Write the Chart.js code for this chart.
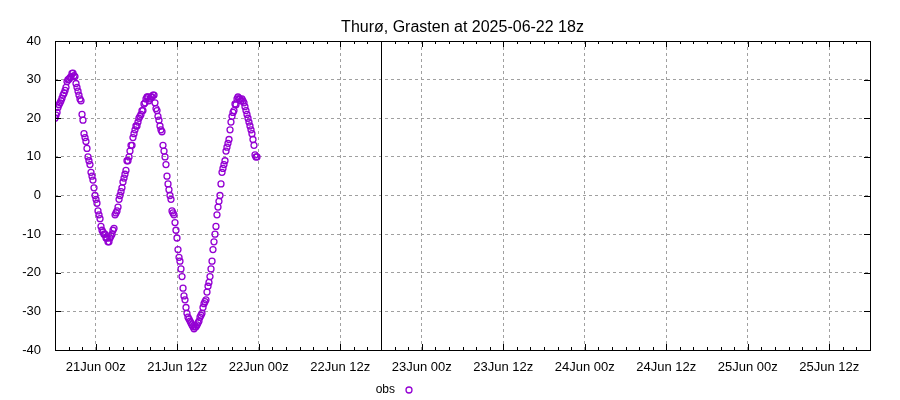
<!DOCTYPE html>
<html>
<head>
<meta charset="utf-8">
<script src="https://cdn.jsdelivr.net/npm/chart.js@4"></script>
<style>
  html, body { margin: 0; padding: 0; background: #fff; }
  #wrap { width: 900px; height: 400px; }
</style>
</head>
<body>
<div id="wrap"><canvas id="c" width="900" height="400"></canvas></div>
<script>
// Hours since 2025-06-20 18z (rows of 10)
const obsHours = [
  0.00, 0.15, 0.30, 0.44, 0.59, 0.74, 0.88, 1.03, 1.18, 1.33,
  1.48, 1.62, 1.77, 1.91, 2.06, 2.21, 2.36, 2.50, 2.65, 2.80,
  2.94, 3.09, 3.24, 3.39, 3.53, 3.68, 3.83, 3.98, 4.12, 4.27,
  4.42, 4.56, 4.71, 4.86, 5.00, 5.15, 5.30, 5.45, 5.59, 5.74,
  5.89, 6.04, 6.18, 6.33, 6.48, 6.63, 6.77, 6.92, 7.07, 7.21,
  7.36, 7.51, 7.65, 7.80, 7.95, 8.10, 8.24, 8.39, 8.54, 8.69,
  8.84, 8.98, 9.13, 9.28, 9.43, 9.57, 9.72, 9.86, 10.01, 10.16,
  10.30, 10.45, 10.60, 10.75, 10.90, 11.04, 11.19, 11.34, 11.48, 11.63,
  11.78, 11.92, 12.07, 12.22, 12.36, 12.51, 12.66, 12.81, 12.95, 13.10,
  13.25, 13.40, 13.55, 13.69, 13.84, 13.99, 14.13, 14.28, 14.43, 14.58,
  14.72, 14.87, 15.02, 15.16, 15.31, 15.46, 15.60, 15.75, 15.90, 16.05,
  16.20, 16.34, 16.49, 16.64, 16.78, 16.93, 17.08, 17.23, 17.37, 17.52,
  17.67, 17.81, 17.96, 18.11, 18.26, 18.40, 18.55, 18.70, 18.85, 18.99,
  19.14, 19.29, 19.43, 19.58, 19.73, 19.88, 20.02, 20.17, 20.32, 20.47,
  20.61, 20.76, 20.91, 21.05, 21.20, 21.35, 21.50, 21.64, 21.79, 21.94,
  22.08, 22.23, 22.38, 22.53, 22.67, 22.82, 22.97, 23.12, 23.26, 23.41,
  23.56, 23.70, 23.85, 24.00, 24.14, 24.29, 24.44, 24.59, 24.73, 24.88,
  25.03, 25.18, 25.32, 25.47, 25.62, 25.77, 25.91, 26.06, 26.21, 26.35,
  26.50, 26.65, 26.80, 26.94, 27.09, 27.24, 27.38, 27.53, 27.68, 27.83,
  27.97, 28.12, 28.27, 28.42, 28.56, 28.71, 28.86, 29.00, 29.15, 29.30,
  29.45, 29.59, 29.74
];
const obsValues = [
  20.0, 20.8, 21.5, 22.8, 23.5, 24.0, 24.5, 25.2, 26.0, 26.5,
  27.2, 28.0, 29.5, 30.0, 30.1, 30.5, 30.8, 31.6, 31.7, 31.0,
  30.8, 29.0, 28.0, 27.0, 26.0, 25.0, 24.5, 21.0, 19.5, 16.0,
  15.0, 14.0, 12.2, 10.0, 9.0, 8.0, 6.0, 5.0, 4.0, 2.0,
  0.0, -1.0, -2.0, -4.0, -5.0, -6.0, -8.0, -9.0, -9.5, -10.0,
  -10.0, -11.0, -11.0, -12.0, -12.0, -11.0, -10.5, -10.0, -9.0, -8.5,
  -5.0, -4.5, -4.0, -3.0, -1.0, 0.0, 1.0, 2.0, 3.5, 4.5,
  5.5, 6.5, 9.0, 9.0, 10.0, 11.5, 13.0, 13.0, 15.0, 16.0,
  17.0, 18.0, 18.0, 19.0, 20.0, 20.5, 21.0, 22.0, 22.0, 23.7,
  24.0, 25.0, 25.5, 25.5, 24.5, 25.0, 25.5, 25.5, 26.0, 26.0,
  24.0, 22.5, 22.0, 20.5, 19.5, 18.0, 17.0, 16.5, 13.0, 11.5,
  10.0, 8.0, 5.0, 3.0, 1.5, 0.0, -1.0, -4.0, -4.5, -5.0,
  -7.0, -9.0, -11.0, -14.0, -16.0, -17.0, -19.0, -21.0, -24.0, -26.0,
  -27.0, -29.0, -30.5, -31.5, -32.0, -32.5, -33.0, -33.5, -34.0, -34.5,
  -34.0, -34.0, -33.5, -33.0, -32.5, -31.5, -31.0, -30.5, -29.0, -28.0,
  -27.5, -27.0, -25.0, -23.5, -22.5, -21.0, -19.0, -17.0, -14.0, -12.0,
  -10.0, -8.0, -5.0, -3.0, -1.5, 0.0, 3.0, 6.0, 7.0, 8.0,
  9.0, 11.5, 12.5, 13.5, 14.5, 17.0, 19.0, 20.5, 21.5, 22.0,
  23.7, 23.5, 25.0, 25.5, 25.0, 25.0, 24.5, 25.0, 24.5, 24.0,
  23.0, 22.0, 21.0, 20.0, 19.0, 18.0, 17.0, 16.0, 14.5, 13.0,
  10.5, 10.0, 10.0
];
const xMajorHours = [6, 18, 30, 42, 54, 66, 78, 90, 102, 114];
const xTickLabels = ['21Jun 00z', '21Jun 12z', '22Jun 00z', '22Jun 12z', '23Jun 00z',
                     '23Jun 12z', '24Jun 00z', '24Jun 12z', '25Jun 00z', '25Jun 12z'];
const yTicks = [-40, -30, -20, -10, 0, 10, 20, 30, 40];
const nowHour = 48;
const titleText = 'Thurø, Grasten at 2025-06-22 18z';
const seriesName = 'obs';

const FONT = 'Liberation Sans, Arial, sans-serif';
const VIOLET = '#9400d3';
const GRID = '#a0a0a0';

const framePlugin = {
  id: 'frame',
  afterDatasetsDraw(chart) {
    const ctx = chart.ctx;
    const a = chart.chartArea;
    const xs = chart.scales.x, ys = chart.scales.y;
    ctx.save();
    ctx.strokeStyle = '#000';
    ctx.lineWidth = 1;
    ctx.beginPath();
    const nx = Math.round(xs.getPixelForValue(nowHour)) + 0.5;
    ctx.moveTo(nx, a.top); ctx.lineTo(nx, a.bottom);
    ctx.stroke();
    ctx.strokeRect(Math.round(a.left) + 0.5, Math.round(a.top) + 0.5,
                   Math.round(a.right - a.left), Math.round(a.bottom - a.top));
    ctx.beginPath();
    for (let h = 2; h < xs.max; h += 2) {
      const px = Math.round(xs.getPixelForValue(h)) + 0.5;
      const len = xMajorHours.includes(h) ? 6 : 3;
      ctx.moveTo(px, a.bottom); ctx.lineTo(px, a.bottom - len);
      ctx.moveTo(px, a.top); ctx.lineTo(px, a.top + len);
    }
    for (const v of yTicks) {
      const py = Math.round(ys.getPixelForValue(v)) + 0.5;
      ctx.moveTo(a.left, py); ctx.lineTo(a.left + 6, py);
      ctx.moveTo(a.right, py); ctx.lineTo(a.right - 6, py);
    }
    ctx.stroke();
    // title, centred over the plot area
    ctx.fillStyle = '#000';
    ctx.font = '16px ' + FONT;
    ctx.textAlign = 'center';
    ctx.textBaseline = 'alphabetic';
    ctx.fillText(titleText, (a.left + a.right) / 2, 32);
    // legend
    ctx.font = '12px ' + FONT;
    ctx.textAlign = 'right';
    ctx.textBaseline = 'middle';
    ctx.fillText(seriesName, 395, 390);
    ctx.strokeStyle = VIOLET;
    ctx.lineWidth = 1.3;
    ctx.beginPath();
    ctx.arc(409, 390, 3, 0, Math.PI * 2);
    ctx.stroke();
    ctx.restore();
  }
};

new Chart(document.getElementById('c'), {
  type: 'scatter',
  data: {
    datasets: [{
      label: seriesName,
      data: obsHours.map((h, i) => ({ x: h, y: obsValues[i] })),
      showLine: false,
      pointStyle: 'circle',
      pointRadius: 3,
      pointBorderWidth: 1.3,
      pointBorderColor: VIOLET,
      pointBackgroundColor: 'rgba(0,0,0,0)'
    }]
  },
  options: {
    responsive: false,
    animation: false,
    layout: { padding: { left: 0, right: 30, top: 41, bottom: 0 } },
    plugins: {
      legend: { display: false },
      tooltip: { enabled: false },
      title: { display: false }
    },
    scales: {
      x: {
        type: 'linear',
        min: 0, max: 120,
        afterBuildTicks(scale) { scale.ticks = xMajorHours.map(v => ({ value: v })); },
        afterFit(scale) { scale.height = 50; },
        ticks: {
          color: '#000',
          font: { family: FONT, size: 13 },
          padding: 10,
          maxRotation: 0,
          autoSkip: false,
          callback(value) { const i = xMajorHours.indexOf(value); return i >= 0 ? xTickLabels[i] : ''; }
        },
        grid: { color: GRID, lineWidth: 1, drawTicks: false },
        border: { display: false, dash: [3, 3] }
      },
      y: {
        min: -40, max: 40,
        afterBuildTicks(scale) { scale.ticks = yTicks.map(v => ({ value: v })); },
        afterFit(scale) { scale.width = 55; },
        ticks: {
          color: '#000',
          font: { family: FONT, size: 13 },
          padding: 14
        },
        grid: { color: GRID, lineWidth: 1, drawTicks: false },
        border: { display: false, dash: [3, 3] }
      }
    }
  },
  plugins: [framePlugin]
});
</script>
</body>
</html>
